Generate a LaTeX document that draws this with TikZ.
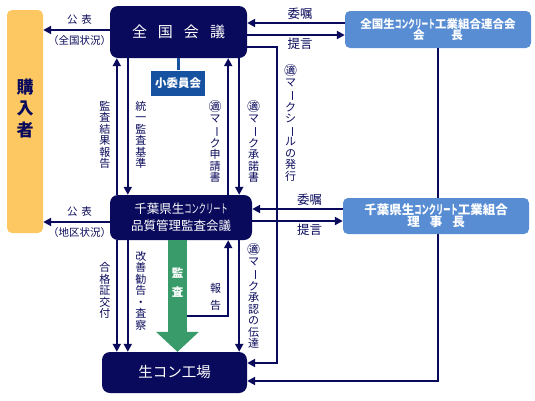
\documentclass[tikz,border=0pt]{standalone}
\usepackage{fontspec}
\setmainfont{Noto Sans CJK JP}
\usepackage{graphicx}
\usepackage{tikz}
\usetikzlibrary{arrows.meta, positioning, calc}
\definecolor{navy}{RGB}{10,10,92}
\definecolor{buyerorange}{RGB}{253,200,98}
\definecolor{unionblue}{RGB}{88,141,212}
\definecolor{committeeblue}{RGB}{22,82,160}
\definecolor{auditgreen}{RGB}{58,155,106}
\newcommand\kana[1]{\scalebox{0.58}[1]{#1}}
\newcommand\tekimark{{\fontsize{13}{12}\selectfont ㊜}}
\newcommand\chouon{\rotatebox[origin=c]{-90}{ー}}

\begin{document}
\begin{tikzpicture}[
    x=1pt, y=-1pt,
    >={Triangle[length=8pt,width=8pt]},
    % Box styles
    buyerbox/.style={rectangle, rounded corners=5pt, fill=buyerorange, minimum width=36pt, minimum height=223pt},
    buyertext/.style={text=navy, align=center, inner sep=0pt, font=\bfseries\fontsize{17}{21.5}\selectfont},
    council/.style={rectangle, rounded corners=8pt, fill=navy, text=white, align=center, inner sep=0pt},
    unionbox/.style={rectangle, rounded corners=5pt, fill=unionblue, text=white, align=center, inner sep=0pt, minimum width=186pt},
    committee/.style={rectangle, fill=committeeblue, text=white, inner sep=0pt, minimum width=54pt, minimum height=25pt, font=\bfseries\fontsize{11.5}{12}\selectfont},
    % Connector and label styles
    flow/.style={->, draw=navy, line width=2pt},
    link/.style={draw=navy, line width=2pt},
    sublink/.style={draw=committeeblue, line width=3pt},
    audit/.style={draw=auditgreen, line width=19pt, -{Triangle[length=20pt,width=43pt,line width=0pt]}},
    audittext/.style={text=white, align=center, inner sep=0pt, font=\bfseries\fontsize{11.5}{19}\selectfont},
    vlabel/.style={text=navy, align=center, inner sep=1pt, font=\fontsize{11}{11.5}\selectfont},
    hlabel/.style={text=navy, inner sep=2pt, font=\fontsize{10.5}{11}\selectfont},
    tlabel/.style={text=navy, inner sep=2pt, font=\fontsize{12.5}{13}\selectfont}
]
\useasboundingbox (0,0) rectangle (535,400);

% --- Nodes ---
\node [buyerbox] (buyer) at (25,121.5) {};
\node [buyertext] (buyerlabel) at ([yshift=13pt]buyer.center) {購\\入\\者};

\node [council, minimum width=137pt, minimum height=52pt, font=\fontsize{15}{15}\selectfont] (national) at (178.5,32) {全\hspace{11pt}国\hspace{11pt}会\hspace{11pt}議};
\node [committee] (subcommittee) at (178,83) {小委員会};
\node [unionbox, minimum height=37pt, font=\bfseries\fontsize{11.5}{11.5}\selectfont] (federation) at (438,29.5) {全国生\kana{コンクリート}工業組合連合会\\会\hspace{27pt}長};

\node [council, minimum width=142pt, minimum height=45pt, font=\fontsize{12.5}{17}\selectfont] (chiba) at (181,217.5) {千葉県生\kana{コンクリート}\\品質管理監査会議};
\node [council, minimum width=145pt, minimum height=41pt, font=\fontsize{14.5}{15}\selectfont] (plant) at (174.5,372.5) {生コン工場};

% line from the federation passes behind the union box
\draw [flow] (federation.south) |- ([yshift=-8.5pt]plant.east);

\node [unionbox, minimum height=36pt, font=\bfseries\fontsize{12.5}{12.5}\selectfont] (union) at (436,216) {千葉県生\kana{コンクリート}工業組合\\理\hspace{10pt}事\hspace{10pt}長};

% --- Arrows ---
\draw [sublink] (national.south -| subcommittee.north) -- (subcommittee.north);

% publication to buyers
\draw [flow] ([yshift=2pt]national.west) -- node[hlabel, above=3pt, xshift=3pt] {公\hspace{4pt}表} node[hlabel, below=3pt, xshift=3pt] {（全国状況）} ([yshift=2pt]national.west -| buyer.east);
\draw [flow] ([yshift=-4.5pt]chiba.west) -- node[hlabel, above=3pt, xshift=3pt] {公\hspace{4pt}表} node[hlabel, below=3pt, xshift=3pt] {（地区状況）} ([yshift=-4.5pt]chiba.west -| buyer.east);

% national council and federation
\draw [flow] ([yshift=9pt]national.east -| federation.west) -- node[tlabel, above, xshift=4pt] {委嘱} ([yshift=9pt]national.east);
\draw [flow] ([yshift=-3pt]national.east) -- node[tlabel, below, xshift=4pt] {提言} ([yshift=-3pt]national.east -| federation.west);
\draw [flow] ([yshift=-15pt]national.east) -- ++(30,0) |- node[vlabel, pos=0.12, right=5pt] {\tekimark\\マ\\\chouon\\ク\\シ\\\chouon\\ル\\の\\発\\行} ([yshift=9.5pt]plant.east);

% chiba council and union
\draw [flow] ([yshift=8.5pt]chiba.east -| union.west) -- node[tlabel, above, xshift=12pt] {委嘱} ([yshift=8.5pt]chiba.east);
\draw [flow] ([yshift=-3.5pt]chiba.east) -- node[tlabel, below, xshift=12pt] {提言} ([yshift=-3.5pt]chiba.east -| union.west);

% between the two councils
\draw [flow] ([xshift=7pt]chiba.north west) -- node[vlabel, pos=0.44, left=4.5pt] {監\\査\\結\\果\\報\\告} ([xshift=7pt]chiba.north west |- national.south);
\draw [flow] ([xshift=18pt]chiba.north west |- national.south) -- node[vlabel, pos=0.56, right=5.5pt] {統\\一\\監\\査\\基\\準} ([xshift=18pt]chiba.north west);
\draw [flow] ([xshift=-24pt]chiba.north east) -- node[vlabel, pos=0.39, left=4.5pt] {\tekimark\\マ\\\chouon\\ク\\申\\請\\書} ([xshift=-24pt]chiba.north east |- national.south);
\draw [flow] ([xshift=-13pt]chiba.north east |- national.south) -- node[vlabel, pos=0.61, right=6pt] {\tekimark\\マ\\\chouon\\ク\\承\\諾\\書} ([xshift=-13pt]chiba.north east);

% chiba council to the plant
\draw [audit] ([xshift=-3.5pt]chiba.south) -- node[audittext, pos=0.38] {監\\査} ([xshift=-3.5pt]chiba.south |- plant.north);
\draw [flow] ([xshift=6pt, yshift=-76pt]chiba.south) -| node[vlabel, pos=0.63, left=5pt, font=\fontsize{11}{17}\selectfont] {報\\告} ([xshift=-24pt]chiba.south east);
\draw [flow] ([xshift=7pt]chiba.south west) -- node[vlabel, pos=0.45, left=4.5pt] {合\\格\\証\\交\\付} ([xshift=7pt]chiba.south west |- plant.north);
\draw [flow] ([xshift=18pt]chiba.south west) -- node[vlabel, pos=0.45, right=5.5pt] {改\\善\\勧\\告\\・\\査\\察} ([xshift=18pt]chiba.south west |- plant.north);
\draw [flow] ([xshift=-13pt]chiba.south east) -- node[vlabel, midway, right=6pt] {\tekimark\\マ\\\chouon\\ク\\承\\認\\の\\伝\\達} ([xshift=-13pt]chiba.south east |- plant.north);

\end{tikzpicture}
\end{document}
